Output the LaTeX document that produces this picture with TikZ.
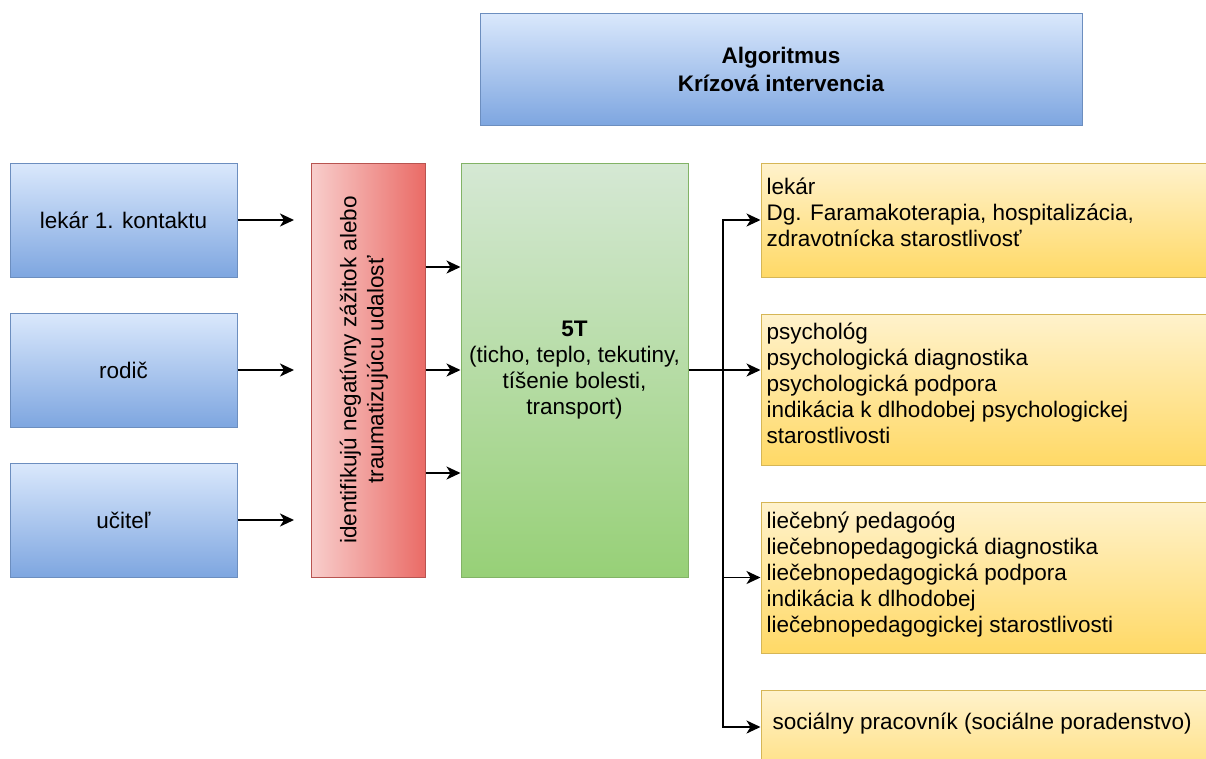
\documentclass[tikz,border=0pt]{standalone}
\usepackage{fontspec}
\setmainfont{Liberation Sans}
\usetikzlibrary{arrows.meta,calc,shadings}
\definecolor{blueTop}{HTML}{DAE8FC}
\definecolor{blueBot}{HTML}{7EA6E0}
\definecolor{blueLine}{HTML}{6C8EBF}
\definecolor{redL}{HTML}{F8CECC}
\definecolor{redR}{HTML}{EA6B66}
\definecolor{redLine}{HTML}{B85450}
\definecolor{greenTop}{HTML}{D5E8D4}
\definecolor{greenBot}{HTML}{97D077}
\definecolor{greenLine}{HTML}{82B366}
\definecolor{orTop}{HTML}{FFF2CC}
\definecolor{orBot}{HTML}{FFD966}
\definecolor{orLine}{HTML}{D6B656}
\tikzset{
  basebox/.style={draw, line width=1pt, inner sep=0pt, rectangle, align=center,
    font=\fontsize{22.5}{26}\selectfont},
  bluebox/.style={basebox, draw=blueLine, top color=blueTop, bottom color=blueBot},
  redbox/.style={basebox, draw=redLine, left color=redL, right color=redR},
  greenbox/.style={basebox, draw=greenLine, top color=greenTop, bottom color=greenBot},
  orbox/.style={basebox, draw=orLine, top color=orTop, bottom color=orBot},
  otext/.style={inner sep=0pt, align=left, anchor=west, font=\fontsize{22.5}{26}\selectfont},
  arr/.style={line width=1.8pt, -{Stealth[length=14pt,width=13pt,inset=4pt]}}
}
\begin{document}
\begin{tikzpicture}[x=1pt,y=-1pt]
\useasboundingbox (0,0) rectangle (1206,758);
% title
\node[bluebox, minimum width=602, minimum height=112,
  font=\bfseries\fontsize{22.5}{28}\selectfont] (title) at (781,69) {Algoritmus\\Krízová intervencia};
% left sources
\node[bluebox, minimum width=227, minimum height=114] (l1) at (123.5,220) {lekár 1. kontaktu};
\node[bluebox, minimum width=227, minimum height=114] (l2) at (123.5,370) {rodič};
\node[bluebox, minimum width=227, minimum height=114] (l3) at (123.5,520) {učiteľ};
\coordinate (a1) at (294,220);
\coordinate (a2) at (294,370);
\coordinate (a3) at (294,520);
% red
\node[redbox, minimum width=114, minimum height=414] (red) at (368,370) {};
\node[inner sep=0pt, rotate=90, align=center, font=\fontsize{22.5}{27}\selectfont] (redt) at ([xshift=-4pt]red.center)
  {identifikujú negatívny zážitok alebo\\traumatizujúcu udalosť};
% green
\node[greenbox, minimum width=227, minimum height=414] (green) at (574.5,370)
  {\textbf{5T}\\(ticho, teplo, tekutiny,\\tíšenie bolesti,\\transport)};
% orange
\node[orbox, minimum width=456, minimum height=114] (o1) at (989,220) {};
\node[orbox, minimum width=456, minimum height=151] (o2) at (989,389.5) {};
\node[orbox, minimum width=456, minimum height=151] (o3) at (989,577.5) {};
\node[orbox, minimum width=456, minimum height=114] (o4) at (989,747) {};
\node[otext] (o1t) at ([xshift=6pt,yshift=8pt]o1.west)
  {lekár\\Dg. Faramakoterapia, hospitalizácia,\\zdravotnícka starostlivosť};
\node[otext] (o2t) at ([xshift=6pt,yshift=6pt]o2.west)
  {psychológ\\psychologická diagnostika\\psychologická podpora\\indikácia k dlhodobej psychologickej\\starostlivosti};
\node[otext] (o3t) at ([xshift=6pt,yshift=3pt]o3.west)
  {liečebný pedagoóg\\liečebnopedagogická diagnostika\\liečebnopedagogická podpora\\indikácia k dlhodobej\\liečebnopedagogickej starostlivosti};
\node[otext] (o4t) at ([xshift=12pt,yshift=23pt]o4.west)
  {sociálny pracovník (sociálne poradenstvo)};
% connectors
\draw[arr] (l1.east) -- (a1);
\draw[arr] (l2.east) -- (a2);
\draw[arr] (l3.east) -- (a3);
\draw[arr] ([yshift=103pt]red.east) -- ([yshift=103pt]green.west);
\draw[arr] (red.east) -- (green.west);
\draw[arr] ([yshift=-103pt]red.east) -- ([yshift=-103pt]green.west);
\coordinate (bus) at (723,370);
\draw[arr] (green.east) -- (green.east -| o2.west);
\draw[arr] (bus) |- (o1.west);
\draw[arr] (bus) |- (o3.west);
\draw[arr] (bus) |- ([yshift=20pt]o4.west);
\end{tikzpicture}
\end{document}
